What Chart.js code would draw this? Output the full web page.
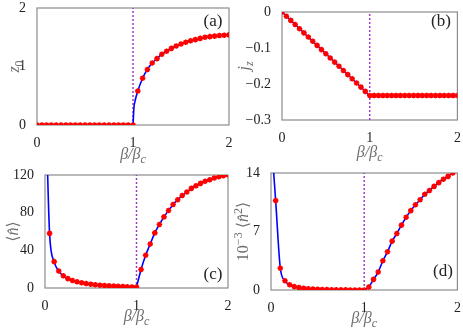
<!DOCTYPE html>
<html>
<head>
<meta charset="utf-8">
<script src="https://cdn.jsdelivr.net/npm/chart.js@4.4.1/dist/chart.umd.min.js"></script>
<style>
html,body{margin:0;padding:0;background:#fff;}
#wrap{position:relative;width:463px;height:331px;overflow:hidden;}
canvas{position:absolute;left:0;top:0;}
</style>
</head>
<body>
<div id="wrap">
<canvas id="ca" width="463" height="331"></canvas>
<canvas id="cb" width="463" height="331"></canvas>
<canvas id="cc" width="463" height="331"></canvas>
<canvas id="cd" width="463" height="331"></canvas>
</div>
<script>
// ---- data ----
const betaL = [0,0.05,0.1,0.15,0.2,0.25,0.3,0.35,0.4,0.45,0.5,0.55,0.6,0.65,0.7,0.75,0.8,0.85,0.9,0.95,1.0];
const betaR = [1.05,1.1,1.15,1.2,1.25,1.3,1.35,1.4,1.45,1.5,1.55,1.6,1.65,1.7,1.75,1.8,1.85,1.9,1.95,2.0];

// (a) z0
const z0L = [0,0,0,0,0,0,0,0,0,0,0,0,0,0,0,0,0,0,0,0,0];
const z0R = [0.58,0.80,0.95,1.06,1.135,1.21,1.26,1.31,1.35,1.385,1.415,1.44,1.46,1.48,1.50,1.51,1.52,1.53,1.535,1.54];
const z0LineX = [1.0,1.01,1.02];
const z0LineY = [0,0.3,0.4];

// (b) jz
const jzL = [0,-0.0116,-0.0232,-0.0348,-0.0464,-0.058,-0.0696,-0.0812,-0.0928,-0.1044,-0.116,-0.1276,-0.1392,-0.1508,-0.1624,-0.174,-0.1856,-0.1972,-0.2088,-0.2204,-0.232];
const jzR = [-0.232,-0.232,-0.232,-0.232,-0.232,-0.232,-0.232,-0.232,-0.232,-0.232,-0.232,-0.232,-0.232,-0.232,-0.232,-0.232,-0.232,-0.232,-0.232,-0.232];

// (c) <n>
const nL = [58,28,18,13,10,8,6.6,5.5,4.7,4,3.5,3,2.6,2.3,2,1.75,1.5,1.3,1.1,1];
const nR = [19.7,34.7,46.7,58.5,67.4,75.5,82.3,88.7,93.7,98.3,101.9,105.8,108.6,111.1,113.3,115,116.8,118.2,119.3,120.3];
const nEdgeX = [0.02];
const nEdgeY = [150];

// (d) 1e-3 <n^2>
const dL = [10.7,2.6,1.1,0.63,0.4,0.28,0.2,0.15,0.11,0.08,0.06,0.04,0.03,0.02,0.015,0.01,0.006,0.003,0.001,0];
const dR = [0.36,1.27,2.15,3.5,4.57,5.85,6.76,7.76,8.71,9.5,10.2,10.8,11.45,11.9,12.4,12.85,13.25,13.6,14.0,14.35];
const dEdgeX = [0.025];
const dEdgeY = [14.6];

// tick labels
const xTicks = [0,1,2];
const yTicksA = [0,1,2];
const yTicksB = [0,-0.1,-0.2,-0.3];
const yTicksC = [0,40,80,120];
const yTicksD = [0,7,14];

// ---- helpers ----
const RED = '#ff0000', BLUE = '#0000ff', PURPLE = '#9b3fbf';
const SERIF = '"Liberation Serif", "DejaVu Serif", serif';
const zip = (xs, ys) => xs.map((x, i) => ({x, y: ys[i]}));

function drawRich(ctx, parts, x, y, rot, size, color) {
  ctx.save();
  ctx.translate(x, y);
  if (rot) ctx.rotate(rot);
  ctx.fillStyle = color;
  ctx.textBaseline = 'alphabetic';
  ctx.textAlign = 'left';
  const fontOf = p => (p.it ? 'italic ' : '') + ((p.sub || p.sup) ? Math.round(size * 0.72) : size) + 'px ' + SERIF;
  let w = 0;
  parts.forEach(p => { ctx.font = fontOf(p); p.w = ctx.measureText(p.t).width; w += p.w; });
  let cx = -w / 2;
  const base = size * 0.33;
  parts.forEach(p => {
    ctx.font = fontOf(p);
    const dy = p.sub ? size * 0.25 : (p.sup ? -size * 0.42 : 0);
    ctx.fillText(p.t, cx, base + dy);
    cx += p.w;
  });
  ctx.restore();
}

const framePlugin = {
  id: 'frame',
  beforeDatasetsDraw(chart) {
    const a = chart.chartArea, ctx = chart.ctx;
    ctx.save();
    ctx.strokeStyle = '#8c8c8c';
    ctx.lineWidth = 1.2;
    ctx.strokeRect(a.left, a.top, a.right - a.left, a.bottom - a.top);
    ctx.restore();
  },
  afterDraw(chart) {
    const o = chart.options.plugins.frame;
    const a = chart.chartArea, ctx = chart.ctx;
    drawRich(ctx, [{t: 'β/β', it: true}, {t: 'c', it: true, sub: true}], (a.left + a.right) / 2, o.xTitleY, 0, 16, '#6e6e6e');
    drawRich(ctx, o.yTitle, o.yTitleX, (a.top + a.bottom) / 2 + (o.yTitleDy || 0), -Math.PI / 2, 16, '#6e6e6e');
    ctx.save();
    ctx.font = '17px ' + SERIF;
    ctx.fillStyle = '#222';
    ctx.textAlign = 'center';
    ctx.textBaseline = 'middle';
    ctx.fillText(o.label, o.labelX, o.labelY);
    ctx.restore();
  }
};

function fmt(v) {
  if (v === 0) return '0';
  const s = String(Math.abs(v));
  return (v < 0 ? '\u2212' : '') + s;
}

function makePanel(id, area, yMin, yMax, yTicks, datasets, frameOpts) {
  const W = 463, H = 331;
  const tickFont = {family: SERIF, size: 14};
  const yW = area.l;           // y-axis box spans everything left of the plot
  const xH = H - area.b;       // x-axis box spans everything below the plot
  return new Chart(document.getElementById(id), {
    type: 'line',
    data: {datasets},
    options: {
      responsive: false,
      animation: false,
      devicePixelRatio: 1,
      events: [],
      layout: {padding: {left: 0, right: W - area.r, top: area.t, bottom: 0}},
      plugins: {legend: {display: false}, tooltip: {enabled: false}, frame: frameOpts},
      scales: {
        x: {
          type: 'linear', min: 0, max: 2,
          grid: {display: false}, border: {display: false},
          afterBuildTicks: s => { s.ticks = xTicks.map(v => ({value: v})); },
          afterFit: s => { s.height = xH; s.paddingLeft = 0; s.paddingRight = 0; },
          ticks: {padding: 2, font: tickFont, color: '#222', maxRotation: 0, autoSkip: false, callback: v => fmt(v)}
        },
        y: {
          type: 'linear', min: yMin, max: yMax,
          grid: {display: false}, border: {display: false},
          afterBuildTicks: s => { s.ticks = yTicks.map(v => ({value: v})); },
          afterFit: s => { s.width = yW; s.paddingTop = 0; s.paddingBottom = 0; },
          ticks: {padding: 3, font: tickFont, color: '#222', autoSkip: false, callback: v => fmt(v)}
        }
      }
    },
    plugins: [framePlugin]
  });
}

function redSet(pts) {
  return {data: pts, showLine: false, pointStyle: 'star', pointRadius: 2.8, pointBorderWidth: 1.6,
    pointBorderColor: RED, pointBackgroundColor: RED, borderColor: RED};
}
function blueSet(pts) {
  return {data: pts, borderColor: BLUE, borderWidth: 1.6, pointRadius: 0, cubicInterpolationMode: 'monotone', fill: false, clip: 0};
}
function purpleSet(y0, y1) {
  return {data: [{x: 1, y: y0}, {x: 1, y: y1}], borderColor: PURPLE, borderWidth: 1.5, borderDash: [2, 2], pointRadius: 0, fill: false};
}

// (a)
makePanel('ca', {l: 37, r: 229, t: 8, b: 125}, 0, 2, yTicksA, [
  redSet(zip(betaL.concat(betaR), z0L.concat(z0R))),
  blueSet(zip(z0LineX.concat(betaR), z0LineY.concat(z0R))),
  purpleSet(0, 2)
], {label: '(a)', labelX: 213, labelY: 22, xTitleY: 154, yTitleX: 14,
    yTitle: [{t: 'z', it: true}, {t: '0', sub: true}]});

// (b)
makePanel('cb', {l: 282, r: 460, t: 12, b: 120}, -0.3, 0, yTicksB, [
  redSet(zip(betaL.concat(betaR), jzL.concat(jzR))),
  blueSet(zip(betaL.concat(betaR), jzL.concat(jzR))),
  purpleSet(-0.3, 0)
], {label: '(b)', labelX: 441, labelY: 22, xTitleY: 152, yTitleX: 244,
    yTitle: [{t: 'j', it: true}, {t: 'z', it: true, sub: true}]});

// (c)
makePanel('cc', {l: 45, r: 228, t: 175, b: 288}, 0, 120, yTicksC, [
  redSet(zip(betaL.slice(1).concat(betaR), nL.concat(nR))),
  blueSet(zip(nEdgeX.concat(betaL.slice(1)), nEdgeY.concat(nL))),
  blueSet(zip([1.0].concat(betaR), [nL[nL.length - 1]].concat(nR))),
  purpleSet(0, 120)
], {label: '(c)', labelX: 213, labelY: 275, xTitleY: 316, yTitleX: 13,
    yTitle: [{t: '\u27E8'}, {t: 'n\u0302', it: true}, {t: '\u27E9'}]});

// (d)
makePanel('cd', {l: 271, r: 459, t: 173, b: 290}, 0, 14, yTicksD, [
  redSet(zip(betaL.slice(1).concat(betaR.slice(0, 19)), dL.concat(dR.slice(0, 19)))),
  blueSet(zip(dEdgeX.concat(betaL.slice(1)), dEdgeY.concat(dL))),
  blueSet(zip([1.0].concat(betaR), [dL[dL.length - 1]].concat(dR))),
  purpleSet(0, 14)
], {label: '(d)', labelX: 443, labelY: 272, xTitleY: 318, yTitleX: 243,
    yTitle: [{t: '10'}, {t: '\u22123', sup: true}, {t: ' \u27E8'}, {t: 'n\u0302', it: true}, {t: '2', sup: true}, {t: '\u27E9'}]});
</script>
</body>
</html>
